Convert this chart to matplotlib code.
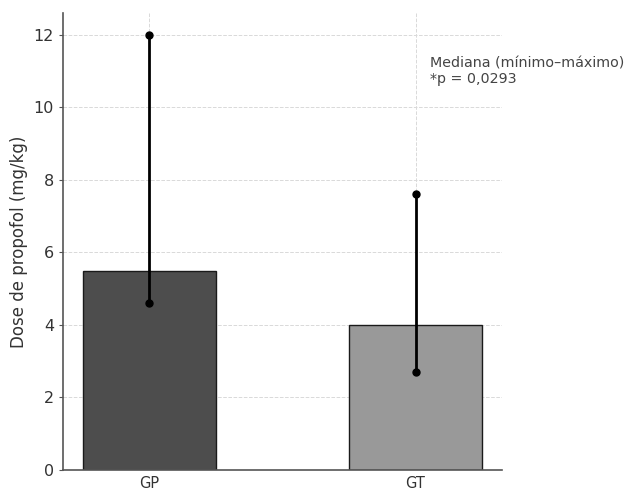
import matplotlib
matplotlib.use("Agg")
import matplotlib.pyplot as plt

# dados
grupos = ["GP", "GT"]
mediana = [5.5, 4.0]
minimo = [4.6, 2.7]
maximo = [12.0, 7.6]
cores = ["#4d4d4d", "#999999"]

fig = plt.figure(figsize=(6.31, 4.9), dpi=100)
ax = fig.add_axes([0.0998, 0.0408, 0.6958, 0.9327])

x = range(len(grupos))
ax.bar(x, mediana, width=0.5, color=cores, edgecolor="#1a1a1a", linewidth=1, zorder=2)
for xi, lo, hi in zip(x, minimo, maximo):
    ax.plot([xi, xi], [lo, hi], color="black", linewidth=2, marker="o", markersize=5, zorder=3)

ax.set_xticks(list(x))
ax.set_xticklabels(grupos, fontsize=10.5, color="#333333")
ax.tick_params(axis="x", length=0, pad=4)
ax.tick_params(axis="y", labelsize=11.5, labelcolor="#333333", length=3, color="#555555")
ax.set_ylabel("Dose de propofol (mg/kg)", fontsize=12, color="#333333")
ax.set_ylim(0, 12.6)
ax.set_xlim(-0.325, 1.325)

ax.grid(True, linestyle="--", color="#d9d9d9", linewidth=0.7, zorder=0)
ax.set_axisbelow(True)
for s in ["top", "right"]:
    ax.spines[s].set_visible(False)
for s in ["left", "bottom"]:
    ax.spines[s].set_color("#555555")
    ax.spines[s].set_linewidth(1.2)

ax.text(0.836, 0.905, "Mediana (mínimo–máximo)\n*p = 0,0293", transform=ax.transAxes,
        fontsize=10.3, color="#444444", va="top", ha="left", linespacing=1.1)

fig.savefig("out.png", dpi=100)
